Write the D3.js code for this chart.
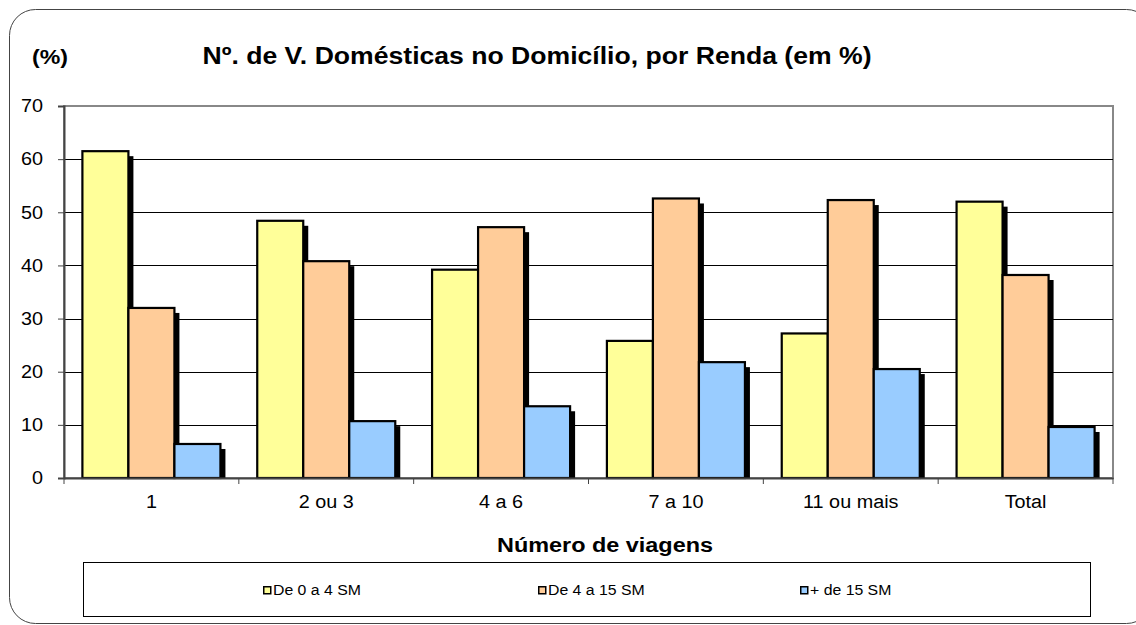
<!DOCTYPE html>
<html>
<head>
<meta charset="utf-8">
<script src="https://cdn.jsdelivr.net/npm/d3@7/dist/d3.min.js"></script>
<style>
  body { margin: 0; background: #fff; }
  svg { display: block; }
</style>
</head>
<body>
<svg id="chart" width="1136" height="625"></svg>
<script>
"use strict";

const categories = ["1", "2 ou 3", "4 a 6", "7 a 10", "11 ou mais", "Total"];
const seriesNames = ["De 0 a 4 SM", "De 4 a 15 SM", "+ de 15 SM"];
const lowIncome = [61.5, 48.4, 39.2, 25.8, 27.2, 52.0];
const midIncome = [32.0, 40.8, 47.2, 52.6, 52.3, 38.2];
const highIncome = [6.4, 10.7, 13.5, 21.8, 20.5, 9.6];
const yTicks = [0, 10, 20, 30, 40, 50, 60, 70];
const colors = ["#ffff99", "#ffcc99", "#99ccff"];

const FONT = "Liberation Sans";

const series = [lowIncome, midIncome, highIncome];
const data = categories.map((cat, i) => ({
  cat,
  values: series.map((s, j) => ({ key: seriesNames[j], value: s[i] }))
}));

const svg = d3.select("#chart");
const dims = { left: 64, right: 1113, top: 106, bottom: 478 };

// the source picture is a bit wider than tall, so text is stretched sideways
function stretch(sel, k) {
  sel.each(function () {
    const w = this.getComputedTextLength();
    d3.select(this).attr("textLength", w * k).attr("lengthAdjust", "spacingAndGlyphs");
  });
}

// outer frame with rounded corners
svg.append("rect")
  .attr("x", 9.5).attr("y", 9.5)
  .attr("width", 1143).attr("height", 614)
  .attr("rx", 26).attr("ry", 26)
  .attr("fill", "none").attr("stroke", "#444").attr("stroke-width", 1);

const x = d3.scaleBand().domain(categories).range([dims.left, dims.right]);
const xInner = d3.scaleBand().domain(seriesNames)
  .range([0, x.bandwidth()]).paddingOuter(0.4).paddingInner(0);
const y = d3.scaleLinear().domain([0, 70]).range([dims.bottom, dims.top]);
const color = d3.scaleOrdinal(colors).domain(seriesNames);

// plot area border (top/right grey)
svg.append("rect")
  .attr("x", dims.left).attr("y", dims.top)
  .attr("width", dims.right - dims.left).attr("height", dims.bottom - dims.top)
  .attr("fill", "#fff").attr("stroke", "#888").attr("stroke-width", 2);

// gridlines
svg.append("g")
  .selectAll("line")
  .data(yTicks.filter((t) => t > 0 && t < 70))
  .join("line")
  .attr("x1", dims.left).attr("x2", dims.right)
  .attr("y1", (d) => Math.round(y(d)) + 0.5).attr("y2", (d) => Math.round(y(d)) + 0.5)
  .attr("stroke", "#000").attr("stroke-width", 1);

// bars
const groups = svg.append("g")
  .selectAll("g")
  .data(data)
  .join("g")
  .attr("transform", (d) => `translate(${x(d.cat)},0)`);

// shadows
groups.selectAll("rect.shadow")
  .data((d) => d.values)
  .join("rect")
  .attr("class", "shadow")
  .attr("x", (d) => xInner(d.key) + 5)
  .attr("y", (d) => y(d.value) + 5)
  .attr("width", xInner.bandwidth())
  .attr("height", (d) => dims.bottom - y(d.value) - 5)
  .attr("fill", "#000");

groups.selectAll("rect.bar")
  .data((d) => d.values)
  .join("rect")
  .attr("class", "bar")
  .attr("x", (d) => xInner(d.key))
  .attr("y", (d) => y(d.value))
  .attr("width", xInner.bandwidth())
  .attr("height", (d) => dims.bottom - y(d.value))
  .attr("fill", (d) => color(d.key))
  .attr("stroke", "#000").attr("stroke-width", 2.2);

// y axis
const yAxis = svg.append("g")
  .attr("transform", `translate(${dims.left},0)`)
  .call(d3.axisLeft(y).tickValues(yTicks).tickSize(6).tickPadding(15));
yAxis.attr("font-family", FONT);
yAxis.select(".domain").attr("stroke", "#444").attr("stroke-width", 2);
yAxis.selectAll(".tick line").attr("stroke", "#444");
yAxis.selectAll("text").attr("font-family", FONT).attr("font-size", 18).attr("fill", "#000")
  .call(stretch, 1.1);

// x axis
const xAxis = svg.append("g")
  .attr("transform", `translate(0,${dims.bottom})`)
  .call(d3.axisBottom(x).tickSize(0).tickPadding(17));
xAxis.attr("font-family", FONT);
xAxis.select(".domain").attr("stroke", "#444").attr("stroke-width", 2);
xAxis.selectAll("text").attr("font-family", FONT).attr("font-size", 18).attr("fill", "#000")
  .call(stretch, 1.1);
svg.append("g")
  .selectAll("line")
  .data(categories.map((c) => x(c)).concat([dims.right]))
  .join("line")
  .attr("x1", (d) => d).attr("x2", (d) => d)
  .attr("y1", dims.bottom).attr("y2", dims.bottom + 6)
  .attr("stroke", "#444");

// titles
svg.append("text")
  .attr("x", 537).attr("y", 64)
  .attr("text-anchor", "middle")
  .attr("font-family", FONT)
  .attr("font-size", 23.5).attr("font-weight", "bold")
  .text("Nº. de V. Domésticas no Domicílio, por Renda (em %)")
  .attr("textLength", 669).attr("lengthAdjust", "spacingAndGlyphs");

svg.append("text")
  .attr("x", 32).attr("y", 64)
  .attr("font-family", FONT)
  .attr("font-size", 20).attr("font-weight", "bold")
  .text("(%)")
  .attr("textLength", 36).attr("lengthAdjust", "spacingAndGlyphs");

svg.append("text")
  .attr("x", 605).attr("y", 552)
  .attr("text-anchor", "middle")
  .attr("font-family", FONT)
  .attr("font-size", 20).attr("font-weight", "bold")
  .text("Número de viagens")
  .attr("textLength", 216).attr("lengthAdjust", "spacingAndGlyphs");

// legend
svg.append("rect")
  .attr("x", 83.5).attr("y", 562.5)
  .attr("width", 1007).attr("height", 54)
  .attr("fill", "#fff").attr("stroke", "#000").attr("stroke-width", 1);

const legendX = [263, 538, 800];
const legend = svg.append("g")
  .selectAll("g")
  .data(seriesNames)
  .join("g")
  .attr("transform", (d, i) => `translate(${legendX[i]},590)`);
legend.append("rect")
  .attr("x", 0.75).attr("y", -3.25)
  .attr("width", 7).attr("height", 7)
  .attr("fill", (d) => color(d))
  .attr("stroke", "#000").attr("stroke-width", 1.5);
legend.append("text")
  .attr("x", 10).attr("y", 5)
  .attr("font-family", FONT)
  .attr("font-size", 14)
  .text((d) => d)
  .call(stretch, 1.13);
</script>
</body>
</html>
